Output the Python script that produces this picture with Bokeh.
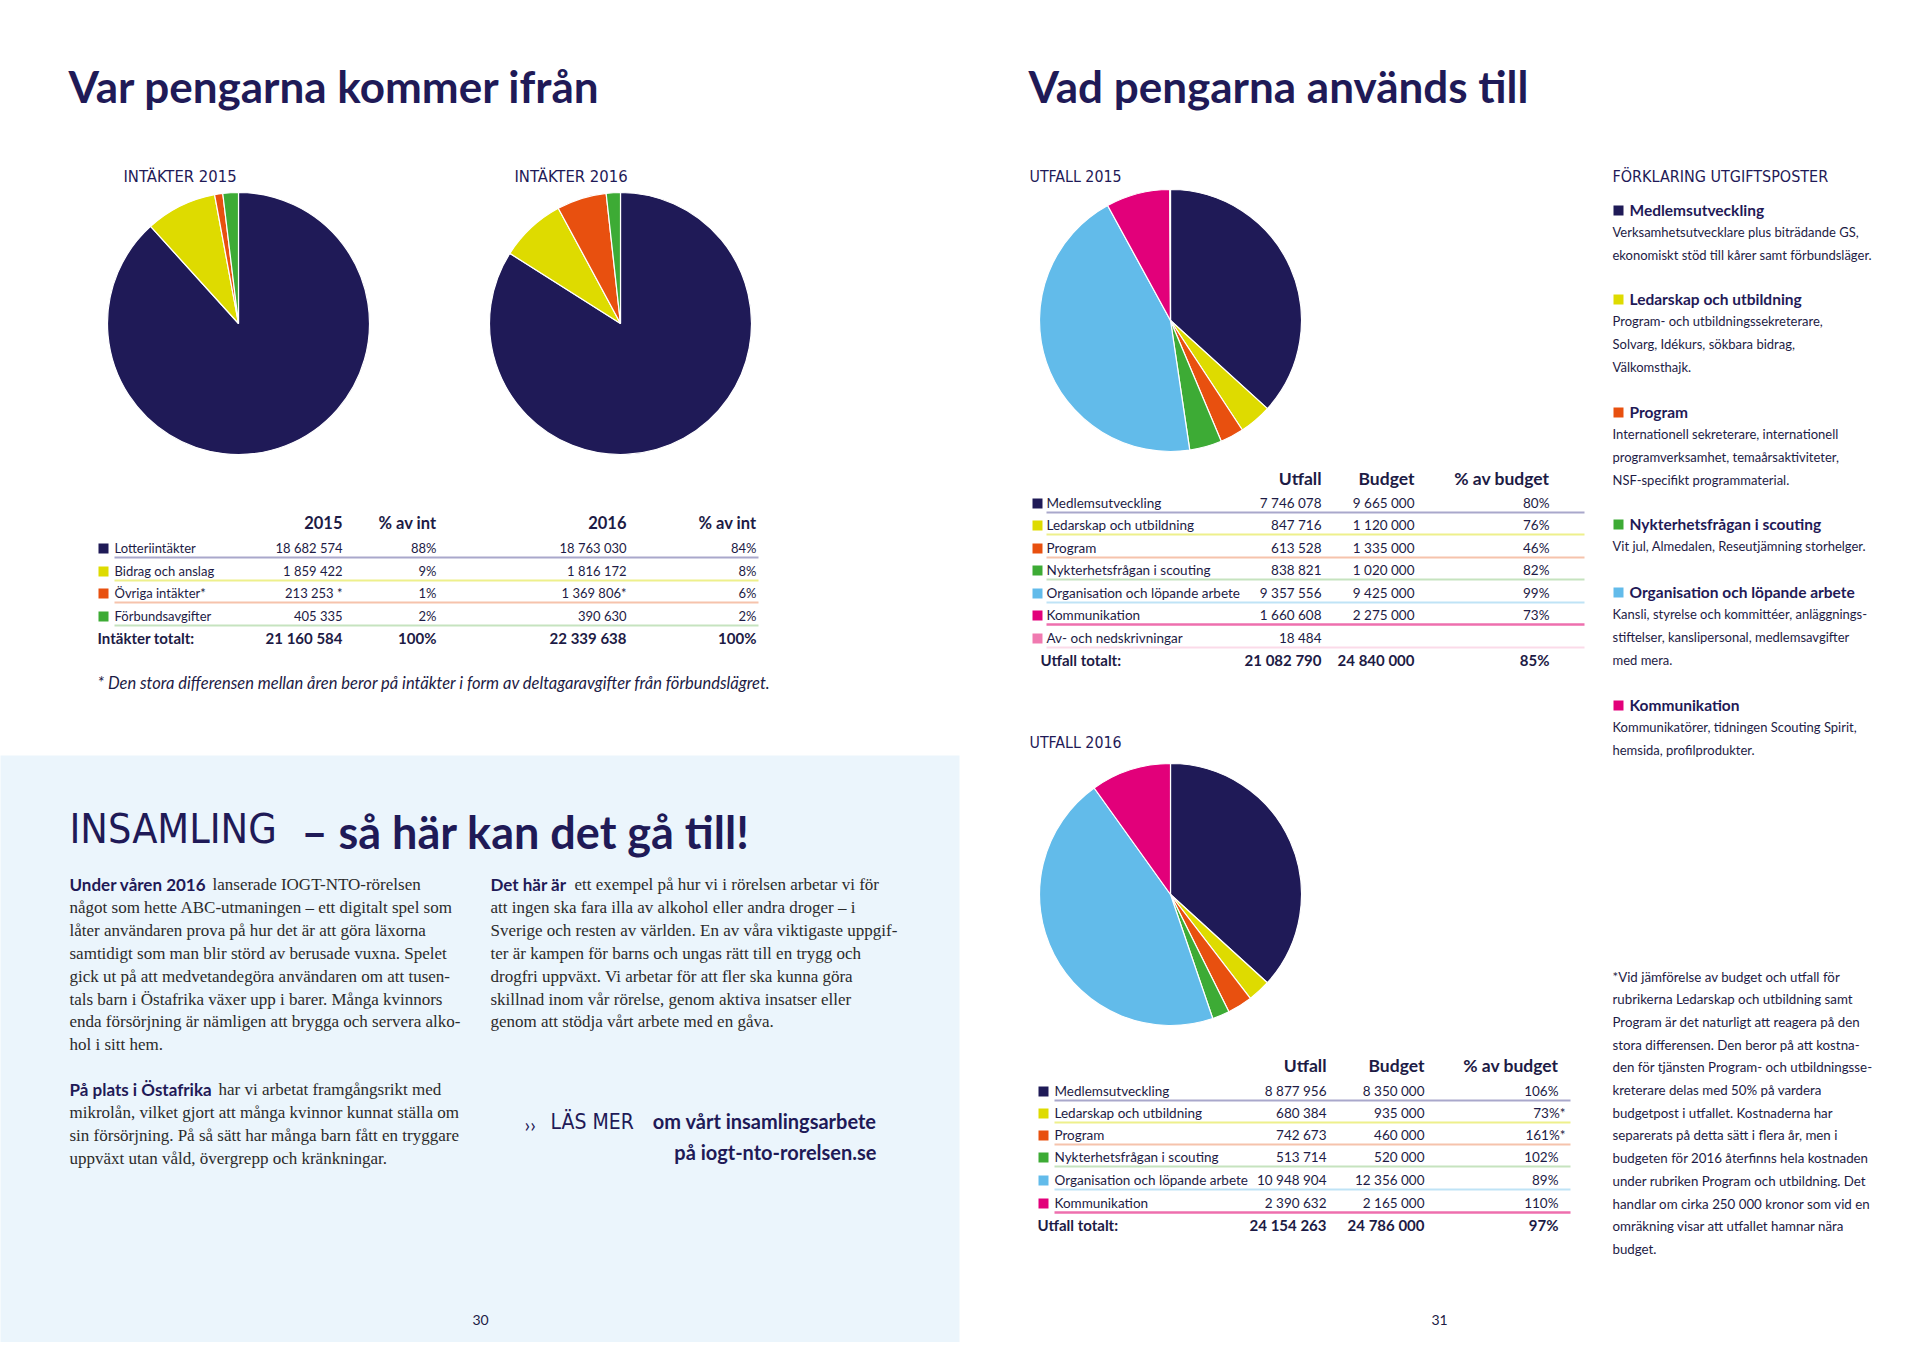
import numpy as np
from bokeh.plotting import figure
from bokeh.models import Range1d
from bokeh.embed import file_html
from bokeh.resources import INLINE
from bokeh.core.properties import value

# ---------------- data ----------------
income_cats = ["Lotteriintäkter", "Bidrag och anslag", "Övriga intäkter*", "Förbundsavgifter"]
income_2015 = [18682574, 1859422, 213253, 405335]
income_2015_note = ["", "", " *", ""]
income_2015_pct = ["88%", "9%", "1%", "2%"]
income_2016 = [18763030, 1816172, 1369806, 390630]
income_2016_note = ["", "", "*", ""]
income_2016_pct = ["84%", "8%", "6%", "2%"]
income_totals = ["21 160 584", "100%", "22 339 638", "100%"]

exp_cats = ["Medlemsutveckling", "Ledarskap och utbildning", "Program",
            "Nykterhetsfrågan i scouting", "Organisation och löpande arbete",
            "Kommunikation", "Av- och nedskrivningar"]
utfall_2015 = [7746078, 847716, 613528, 838821, 9357556, 1660608, 18484]
budget_2015 = ["9 665 000", "1 120 000", "1 335 000", "1 020 000", "9 425 000", "2 275 000", ""]
pct_2015 = ["80%", "76%", "46%", "82%", "99%", "73%", ""]
totals_2015 = ["21 082 790", "24 840 000", "85%"]

utfall_2016 = [8877956, 680384, 742673, 513714, 10948904, 2390632]
budget_2016 = ["8 350 000", "935 000", "460 000", "520 000", "12 356 000", "2 165 000"]
pct_2016 = ["106%", "73%*", "161%*", "102%", "89%", "110%"]
totals_2016 = ["24 154 263", "24 786 000", "97%"]

legend_desc = [
    ["Verksamhetsutvecklare plus biträdande GS,", "ekonomiskt stöd till kårer samt förbundsläger."],
    ["Program- och utbildningssekreterare,", "Solvarg, Idékurs, sökbara bidrag,", "Välkomsthajk."],
    ["Internationell sekreterare, internationell", "programverksamhet, temaårsaktiviteter,", "NSF-specifikt programmaterial."],
    ["Vit jul, Almedalen, Reseutjämning storhelger."],
    ["Kansli, styrelse och kommittéer, anläggnings-", "stiftelser, kanslipersonal, medlemsavgifter", "med mera."],
    ["Kommunikatörer, tidningen Scouting Spirit,", "hemsida, profilprodukter."],
]

note_right = ["*Vid jämförelse av budget och utfall för", "rubrikerna Ledarskap och utbildning samt",
              "Program är det naturligt att reagera på den", "stora differensen. Den beror på att kostna-",
              "den för tjänsten Program- och utbildningsse-", "kreterare delas med 50% på vardera",
              "budgetpost i utfallet. Kostnaderna har", "separerats på detta sätt i flera år, men i",
              "budgeten för 2016 återfinns hela kostnaden", "under rubriken Program och utbildning. Det",
              "handlar om cirka 250 000 kronor som vid en", "omräkning visar att utfallet hamnar nära",
              "budget."]

para1_lead = "Under våren 2016"
para1 = ["lanserade IOGT-NTO-rörelsen", "något som hette ABC-utmaningen – ett digitalt spel som",
         "låter användaren prova på hur det är att göra läxorna",
         "samtidigt som man blir störd av berusade vuxna. Spelet",
         "gick ut på att medvetandegöra användaren om att tusen-",
         "tals barn i Östafrika växer upp i barer. Många kvinnors",
         "enda försörjning är nämligen att brygga och servera alko-", "hol i sitt hem."]
para2_lead = "På plats i Östafrika"
para2 = ["har vi arbetat framgångsrikt med", "mikrolån, vilket gjort att många kvinnor kunnat ställa om",
         "sin försörjning. På så sätt har många barn fått en tryggare",
         "uppväxt utan våld, övergrepp och kränkningar."]
para3_lead = "Det här är"
para3 = ["ett exempel på hur vi i rörelsen arbetar vi för",
         "att ingen ska fara illa av alkohol eller andra droger –  i",
         "Sverige och resten av världen. En av våra viktigaste uppgif-",
         "ter är kampen för barns och ungas rätt till en trygg och",
         "drogfri uppväxt. Vi arbetar för att fler ska kunna göra",
         "skillnad inom vår rörelse, genom aktiva insatser eller",
         "genom att stödja vårt arbete med en gåva."]

# ---------------- styles ----------------
NAVY = "#1f1a57"
INK = "#1d1b45"
BODY = "#2b2b2b"
C = ["#1f1a57", "#dedb00", "#e8500f", "#3dab35", "#62bbea", "#e2007a", "#f07ab0"]
LINE_C = ["#a9a8cb", "#eef08c", "#f6c3ac", "#c6e3bf", "#bfe3f6", "#ee6fae", "#fbdbe9"]
SANS = "Lato"
SERIF = "Liberation Serif"
HAND = "'Noto Sans ExtraCondensed', 'Noto Sans Condensed', 'DejaVu Sans Condensed', 'Liberation Sans Narrow', Roboto"

W, H = 1920, 1358
p = figure(width=1904, height=1342, x_range=Range1d(8, 1912), y_range=Range1d(8, 1350),
           output_backend="svg", toolbar_location=None, min_border=0,
           x_axis_type=None, y_axis_type=None)
p.grid.visible = False
p.outline_line_color = None
p.background_fill_color = "white"
p.border_fill_color = "white"


def Y(y):
    return H - y


def txt(x, y, s, size, color=INK, font=SANS, style="normal", align="left"):
    if isinstance(s, str):
        s, x, y = [s], [x], [y]
    p.text(x=list(x), y=[Y(v) for v in y], text=list(s), text_font=value(font),
           text_font_size=f"{size}px", text_font_style=style, text_color=color,
           text_align=align, text_baseline="middle")


def fmt(v):
    return f"{v:,}".replace(",", " ")


def pie(cx, cy, r, vals, cols):
    v = np.array(vals, dtype=float)
    cum = np.concatenate([[0], np.cumsum(v)]) / v.sum()
    start = np.pi / 2 - 2 * np.pi * cum[:-1]
    end = np.pi / 2 - 2 * np.pi * cum[1:]
    p.wedge(x=[cx] * len(v), y=[Y(cy)] * len(v), radius=r, start_angle=list(start),
            end_angle=list(end), direction="clock", fill_color=list(cols[:len(v)]),
            line_color="white", line_width=1.2)


# background box
p.quad(left=[0], right=[967], top=[Y(763)], bottom=[Y(1358)], fill_color="#ebf5fc", line_color=None)

# titles
txt(76, 93, "Var pengarna kommer ifrån", 44, NAVY, style="bold")
txt(1036, 93, "Vad pengarna används till", 44, NAVY, style="bold")

# handwritten labels
txt(131, 184, "INTÄKTER 2015", 16.5, NAVY, font=HAND)
txt(522, 184, "INTÄKTER 2016", 16.5, NAVY, font=HAND)
txt(1037, 184, "UTFALL 2015", 15.8, NAVY, font=HAND)
txt(1037, 750, "UTFALL 2016", 15.8, NAVY, font=HAND)
txt(1620, 184, "FÖRKLARING UTGIFTSPOSTER", 16, NAVY, font=HAND)

# pies
pie(246, 331, 131, income_2015, C[:4])
pie(628, 331, 131, income_2016, C[:4])
pie(1178, 328, 131, utfall_2015, C)
pie(1178, 902, 131, utfall_2016, C)

# ---- income table ----
rows_l = [555, 578, 600, 623]
cols_l = [350, 444, 634, 764]
txt(cols_l, [530] * 4, ["2015", "% av int", "2016", "% av int"], 16.5, INK, style="bold", align="right")
for i, cat in enumerate(income_cats):
    y = rows_l[i]
    p.rect(x=[111], y=[Y(y + 1)], width=10, height=10, fill_color=C[i], line_color=None)
    p.segment(x0=[122], y0=[Y(y + 10)], x1=[766], y1=[Y(y + 10)], line_color=LINE_C[i], line_width=2)
txt([122] * 4, rows_l, income_cats, 13)
txt([cols_l[0]] * 4, rows_l, [fmt(v) + n for v, n in zip(income_2015, income_2015_note)], 13, align="right")
txt([cols_l[1]] * 4, rows_l, income_2015_pct, 13, align="right")
txt([cols_l[2]] * 4, rows_l, [fmt(v) + n for v, n in zip(income_2016, income_2016_note)], 13, align="right")
txt([cols_l[3]] * 4, rows_l, income_2016_pct, 13, align="right")
txt(105, 645, "Intäkter totalt:", 15, INK, style="bold")
txt(cols_l, [645] * 4, income_totals, 15, INK, style="bold", align="right")
txt(105, 690, "* Den stora differensen mellan åren beror på intäkter i form av deltagaravgifter från förbundslägret.",
    16.5, INK, style="italic")


# ---- expense tables ----
def exp_table(rows, x_sq, x_lbl, x_end, cols_x, header_y, total_y, cats, utf, bud, pct, totals, x_tot):
    txt(cols_x, [header_y] * 3, ["Utfall", "Budget", "% av budget"], 17.5, INK, style="bold", align="right")
    for i, cat in enumerate(cats):
        y = rows[i]
        p.rect(x=[x_sq], y=[Y(y + 1)], width=10, height=10, fill_color=C[i], line_color=None)
        p.segment(x0=[x_lbl], y0=[Y(y + 10)], x1=[x_end], y1=[Y(y + 10)], line_color=LINE_C[i],
                  line_width=2.4 if i == 5 else 2)
    n = len(cats)
    txt([x_lbl] * n, rows, cats, 13.5)
    txt([cols_x[0]] * n, rows, [fmt(v) for v in utf], 13.5, align="right")
    txt([cols_x[1]] * n, rows, bud, 13.5, align="right")
    px = [cols_x[2] + (7 if s.endswith("*") else 0) for s in pct]
    txt(px, rows, pct, 13.5, align="right")
    txt(x_tot, total_y, "Utfall totalt:", 15, INK, style="bold")
    txt(cols_x, [total_y] * 3, totals, 15, INK, style="bold", align="right")


exp_table([510, 532, 555, 577, 600, 622, 645], 1045, 1054, 1592, [1329, 1422, 1557], 486, 667,
          exp_cats, utfall_2015, budget_2015, pct_2015, totals_2015, 1048)
exp_table([1098, 1120, 1142, 1164, 1187, 1210], 1051, 1062, 1578, [1334, 1432, 1566], 1073, 1232,
          exp_cats[:6], utfall_2016, budget_2016, pct_2016, totals_2016, 1045)

# ---- legend explanation ----
heads_y = [217, 306, 419, 531, 599, 712]
for i, hy in enumerate(heads_y):
    p.rect(x=[1626], y=[Y(hy + 1)], width=10, height=10, fill_color=C[i], line_color=None)
    txt(1637, hy, exp_cats[i], 15.5, NAVY, style="bold")
    lines = legend_desc[i]
    txt([1620] * len(lines), [hy + 22.8 * (k + 1) for k in range(len(lines))], lines, 13, INK)

txt([1620] * len(note_right), [984 + 22.7 * k for k in range(len(note_right))], note_right, 13.3, INK)

# ---- insamling ----
txt(77, 836, "INSAMLING", 41, NAVY, font=HAND)
txt(309, 839, "– så här kan det gå till!", 45, NAVY, style="bold")

LS = 22.9
txt(77, 892, para1_lead, 17, NAVY, style="bold")
txt(220, 892, para1[0], 17, BODY, font=SERIF)
txt([77] * (len(para1) - 1), [892 + LS * (k + 1) for k in range(len(para1) - 1)], para1[1:], 17, BODY, font=SERIF)
txt(77, 1097, para2_lead, 17, NAVY, style="bold")
txt(226, 1097, para2[0], 17, BODY, font=SERIF)
txt([77] * (len(para2) - 1), [1097 + LS * (k + 1) for k in range(len(para2) - 1)], para2[1:], 17, BODY, font=SERIF)
txt(498, 892, para3_lead, 17, NAVY, style="bold")
txt(582, 892, para3[0], 17, BODY, font=SERIF)
txt([498] * (len(para3) - 1), [892 + LS * (k + 1) for k in range(len(para3) - 1)], para3[1:], 17, BODY, font=SERIF)

txt(532, 1131, "››", 20, NAVY)
txt(558, 1129, "LÄS MER", 21, NAVY, font=HAND)
txt(884, 1128, "om vårt insamlingsarbete", 20, NAVY, style="bold", align="right")
txt(884, 1159, "på iogt-nto-rorelsen.se", 20, NAVY, style="bold", align="right")

# page numbers
txt(488, 1327, "30", 14, INK, align="center")
txt(1447, 1327, "31", 14, INK, align="center")

open("out.html", "w").write(file_html(p, INLINE))
